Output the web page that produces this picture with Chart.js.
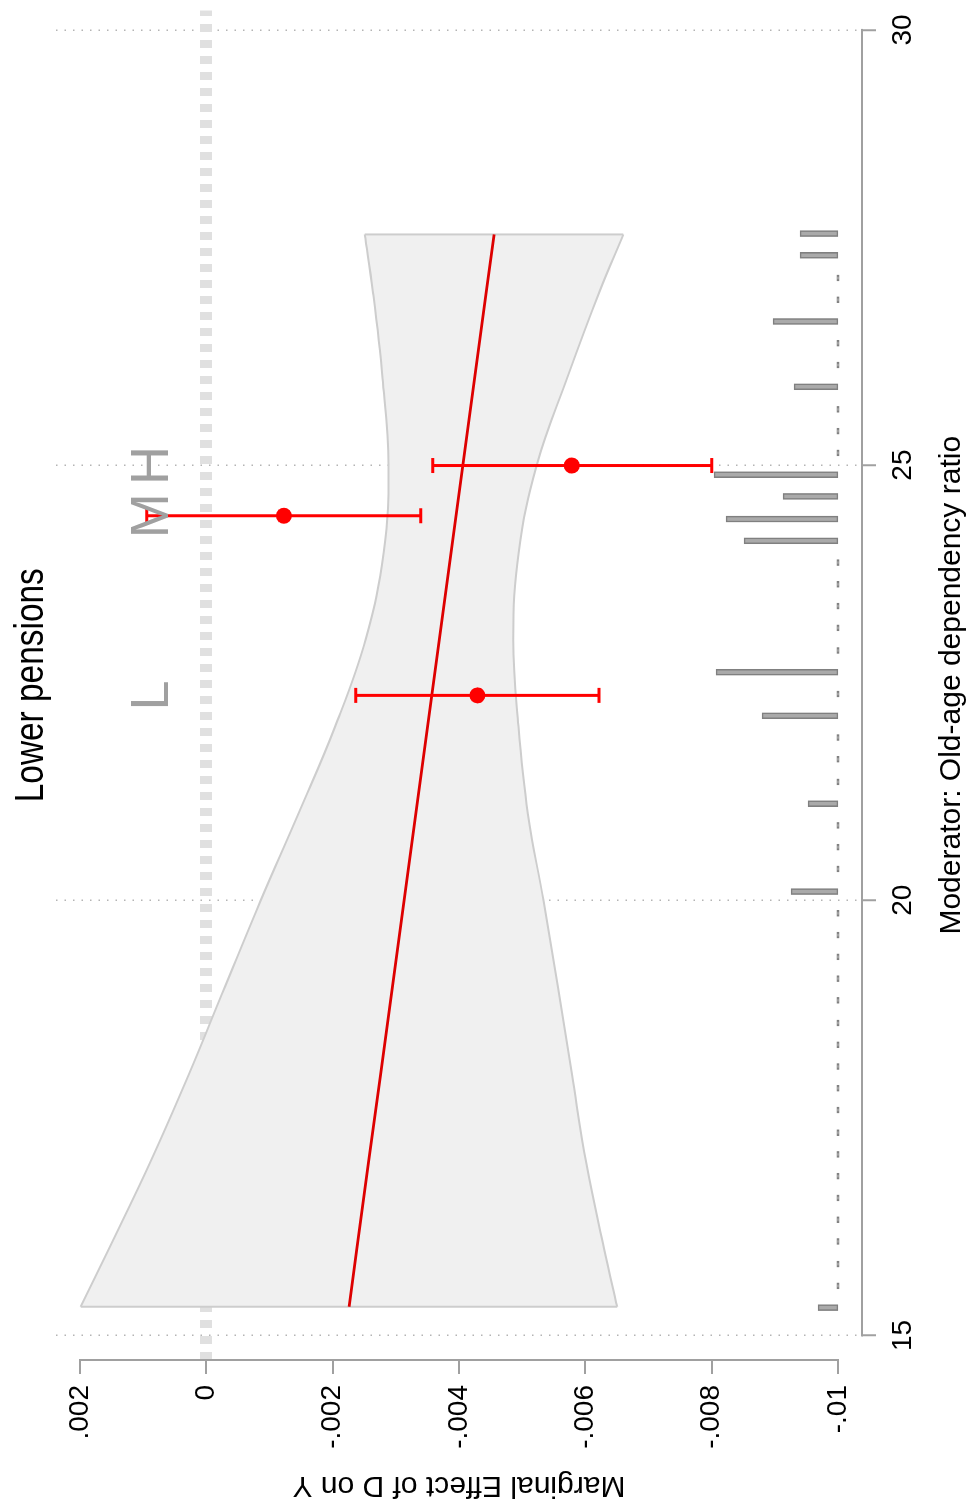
<!DOCTYPE html>
<html><head><meta charset="utf-8">
<script src="https://cdn.jsdelivr.net/npm/chart.js@4.4.1/dist/chart.umd.min.js"></script>
<style>
html,body{margin:0;padding:0;background:#fff;width:970px;height:1511px;overflow:hidden;}
#wrap{position:absolute;left:0;top:0;width:1511px;height:970px;transform-origin:0 0;transform:translate(0px,1511px) rotate(-90deg);background:#fff;}
canvas{display:block;}
</style></head><body>
<div id="wrap"><canvas id="c" width="1511" height="970"></canvas></div>
<script>
// ---------- data ----------
const chartTitle = 'Lower pensions';
const xTitle = 'Moderator: Old-age dependency ratio';
const yTitle = 'Marginal Effect of D on Y';

const xTicks = [15, 20, 25, 30];
const yTicks = [0.002, 0, -0.002, -0.004, -0.006, -0.008, -0.01];
const yTickLabels = ['.002', '0', '-.002', '-.004', '-.006', '-.008', '-.01'];

// moderator grid for the estimated marginal effect and its confidence band
const modGrid = [15.33, 16, 17, 18, 19, 20, 21, 22, 23, 24, 25, 26, 27, 27.65];
const meLine  = [-0.00226, -0.002385, -0.002571, -0.002758, -0.002944, -0.003131, -0.003317, -0.003503, -0.00369, -0.003876, -0.004062, -0.004249, -0.004435, -0.004556];
const ciUpper = [0.00199, 0.00154, 0.000882, 0.000277, -0.000291, -0.000862, -0.001461, -0.002041, -0.002523, -0.002808, -0.002884, -0.002789, -0.002636, -0.002507];
const ciLower = [-0.006504, -0.006297, -0.00601, -0.005788, -0.005567, -0.005336, -0.00509, -0.004942, -0.00486, -0.004947, -0.00523, -0.005712, -0.006228, -0.006602];

// binning estimates (L, M, H)
const binLabels = ['L', 'M', 'H'];
const binX    = [22.354, 24.418, 24.995];
const binEst  = [-0.004291, -0.001229, -0.005785];
const binLow  = [-0.006215, -0.003393, -0.008002];
const binHigh = [-0.002367, 0.000945, -0.003584];

// histogram of the moderator (bin centres and relative frequency)
const histX = [15.32, 15.57, 15.82, 16.08, 16.33, 16.58, 16.83, 17.08, 17.33, 17.59,
               17.84, 18.09, 18.34, 18.59, 18.85, 19.10, 19.35, 19.60, 19.85, 20.10,
               20.36, 20.61, 20.86, 21.11, 21.36, 21.62, 21.87, 22.12, 22.37, 22.62,
               22.87, 23.13, 23.38, 23.63, 23.88, 24.13, 24.38, 24.64, 24.89, 25.14,
               25.39, 25.64, 25.90, 26.15, 26.40, 26.65, 26.90, 27.15, 27.41, 27.66];
const histFreq = [2.0, 0, 0, 0, 0, 0, 0, 0, 0, 0,
                  0, 0, 0, 0, 0, 0, 0, 0, 0, 4.7,
                  0, 0, 0, 3.0, 0, 0, 0, 7.6, 0, 12.2,
                  0, 0, 0, 0, 0, 9.4, 11.2, 5.5, 12.4, 0,
                  0, 0, 4.4, 0, 0, 6.5, 0, 0, 3.8, 3.8];

// ---------- chart ----------
const FONT = "'Liberation Sans', Arial, Helvetica, sans-serif";
Chart.defaults.font.family = FONT;
Chart.defaults.color = '#000';

const pts = (xs, ys) => xs.map((x, i) => ({ x: x, y: ys[i] }));
const yLabelFor = v => {
  let best = 0, d = Infinity;
  yTicks.forEach((t, i) => { const e = Math.abs(t - v); if (e < d) { d = e; best = i; } });
  return yTickLabels[best];
};

const RED = '#ff0000';
const BAND_EDGE = '#cdcdcd';

const datasets = [];
// 0: bin point estimates
datasets.push({ type: 'line', data: pts(binX, binEst), showLine: false, pointRadius: 8,
  pointBackgroundColor: RED, pointBorderColor: RED, pointBorderWidth: 0, order: 0 });
// 1-3: bin confidence intervals
binX.forEach((bx, i) => {
  datasets.push({ type: 'line', data: [{ x: bx, y: binLow[i] }, { x: bx, y: binHigh[i] }],
    borderColor: RED, borderWidth: 3, pointStyle: 'line', pointRadius: 7.5,
    pointBorderColor: RED, pointBorderWidth: 3, order: 1 });
});
// estimated marginal effect line
datasets.push({ type: 'line', data: pts(modGrid, meLine), borderColor: '#dd0000', borderWidth: 2.8,
  pointRadius: 0, tension: 0, order: 2 });
// band end edges
datasets.push({ type: 'line', data: [{ x: modGrid[0], y: ciLower[0] }, { x: modGrid[0], y: ciUpper[0] }],
  borderColor: BAND_EDGE, borderWidth: 2, pointRadius: 0, order: 3 });
datasets.push({ type: 'line', data: [{ x: modGrid[modGrid.length - 1], y: ciLower[ciLower.length - 1] }, { x: modGrid[modGrid.length - 1], y: ciUpper[ciUpper.length - 1] }],
  borderColor: BAND_EDGE, borderWidth: 2, pointRadius: 0, order: 3 });
// confidence band upper (filled to next) and lower
datasets.push({ type: 'line', data: pts(modGrid, ciUpper), borderColor: BAND_EDGE, borderWidth: 2,
  backgroundColor: '#f0f0f0', fill: '+1', pointRadius: 0, tension: 0.4, order: 5 });
datasets.push({ type: 'line', data: pts(modGrid, ciLower), borderColor: BAND_EDGE, borderWidth: 2,
  fill: false, pointRadius: 0, tension: 0.4, order: 4 });
// histogram
datasets.push({ type: 'bar', data: pts(histX, histFreq), yAxisID: 'y2', backgroundColor: '#aaaaaa',
  borderColor: '#808080', borderWidth: 1.6, borderSkipped: false, barThickness: 6, minBarLength: 2.5, order: 6 });

const decor = {
  id: 'decor',
  beforeDatasetsDraw(chart) {
    const { ctx, chartArea, scales } = chart;
    const x = scales.x, y = scales.y;
    ctx.save();
    ctx.strokeStyle = '#a0a0a0';
    ctx.lineWidth = 2;
    ctx.beginPath();
    ctx.moveTo(chartArea.left, y.getPixelForValue(yTicks[0]) - 1);
    ctx.lineTo(chartArea.left, y.getPixelForValue(yTicks[yTicks.length - 1]) + 1);
    ctx.moveTo(x.getPixelForValue(xTicks[0]) - 1, chartArea.bottom);
    ctx.lineTo(x.getPixelForValue(xTicks[xTicks.length - 1]) + 1, chartArea.bottom);
    ctx.stroke();
    ctx.restore();
  },
  afterDatasetsDraw(chart) {
    const { ctx, chartArea, scales } = chart;
    const x = scales.x;
    ctx.save();
    // bin labels
    ctx.fillStyle = '#a0a0a0';
    ctx.font = '54px ' + FONT;
    ctx.textAlign = 'center';
    ctx.textBaseline = 'alphabetic';
    binLabels.forEach((lab, i) => ctx.fillText(lab, x.getPixelForValue(binX[i]), 168));
    // title
    ctx.fillStyle = '#000';
    ctx.font = '41px ' + FONT;
    ctx.translate((chartArea.left + chartArea.right) / 2, 42.5);
    ctx.scale(0.815, 1);
    ctx.fillText(chartTitle, 0, 0);
    ctx.restore();
  }
};

new Chart(document.getElementById('c'), {
  type: 'line',
  data: { datasets: datasets },
  plugins: [decor],
  options: {
    responsive: false,
    animation: false,
    devicePixelRatio: 1,
    events: [],
    layout: { padding: { top: 56, right: 0, left: 0, bottom: 0 } },
    plugins: { legend: { display: false }, tooltip: { enabled: false }, title: { display: false } },
    scales: {
      x: {
        type: 'linear', min: 14.718, max: 30.223, offset: false,
        afterBuildTicks: s => { s.ticks = xTicks.map(v => ({ value: v })); },
        afterFit: s => { s.height = 108; },
        ticks: { callback: v => String(v), font: { size: 28 }, color: '#000', padding: 10, maxRotation: 0, autoSkip: false },
        grid: { offset: false, drawOnChartArea: true, color: '#b4b4b4', lineWidth: 1.5, drawTicks: true,
                tickLength: 14, tickColor: '#a0a0a0', tickWidth: 2 },
        border: { display: false, dash: [1.5, 7] },
        title: { display: true, text: xTitle, font: { size: 30 }, color: '#000', padding: { top: 2, bottom: 0 } }
      },
      y: {
        type: 'linear', min: -0.01038, max: 0.00238,
        afterBuildTicks: s => { s.ticks = yTicks.map(v => ({ value: v })); },
        afterFit: s => { s.width = 151; },
        ticks: { callback: v => yLabelFor(v), font: { size: 28 }, color: '#000', padding: 11, autoSkip: false },
        grid: {
          drawOnChartArea: true,
          color: c => (c.tick && c.tick.value === 0) ? '#e0e0e0' : 'rgba(0,0,0,0)',
          lineWidth: c => (c.tick && c.tick.value === 0) ? 12 : 0,
          drawTicks: true, tickLength: 14, tickColor: '#a0a0a0', tickWidth: 2
        },
        border: { display: false, dash: [8, 8] },
        title: { display: true, text: yTitle, font: { size: 30 }, color: '#000', padding: { top: 8, bottom: 0 } }
      },
      y2: { type: 'linear', display: false, min: -2.4, max: 78.2 }
    }
  }
});
</script>
</body></html>
